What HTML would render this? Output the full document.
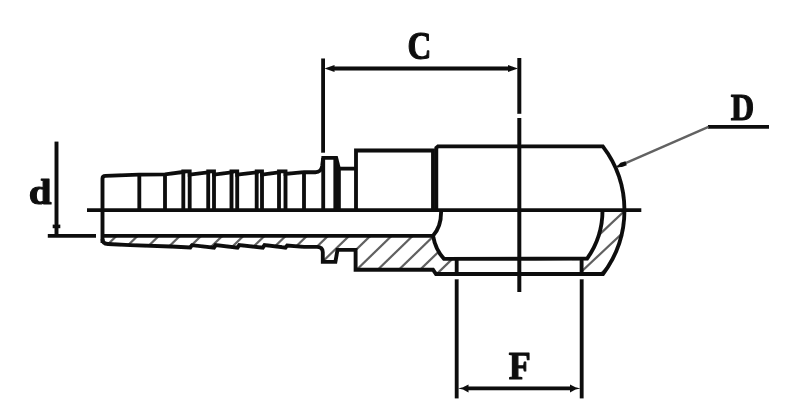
<!DOCTYPE html>
<html><head><meta charset="utf-8"><title>Banjo hose fitting</title>
<style>
html,body{margin:0;padding:0;background:#fff;}
body{width:805px;height:414px;overflow:hidden;font-family:"Liberation Serif",serif;}
svg{display:block;}
</style></head><body>
<svg width="805" height="414" viewBox="0 0 805 414">
<defs>
<clipPath id="cb"><path d="M102.5,235.7 L433,235.7 Q435.5,250 444,258.7 L456.5,258.7 L456.5,274 L436,274 L433,269.7 L355.6,269.7 L355.6,249.8 L338,249.8 L336.7,262 L322.8,261.8 L322.8,252 Q322.5,246 317,245.8 L304,246.9 L287.2,245.6 L285.5,247.6 L264.5,245.1 L262.8,247.6 L239.2,245.1 L237.5,247.6 L215.7,245.1 L214,247.6 L192,245.2 L190.3,247.5 L171,246.5 L130,245.1 L108,244 Q102.5,243.8 102.5,239 Z"/></clipPath>
<clipPath id="cr"><path d="M602.5,210 L624.5,210 A105.2,105.2 0 0 1 603,274 L581.5,274 L581.5,258.2 L587.3,258.2 A83.2,83.2 0 0 0 602.5,210 Z"/></clipPath>
<filter id="bl" x="-5%" y="-5%" width="110%" height="110%"><feGaussianBlur stdDeviation="0.6"/></filter>
</defs>
<rect width="805" height="414" fill="#ffffff"/>
<g filter="url(#bl)">
<g clip-path="url(#cb)" stroke="#606060" stroke-width="2.2" fill="none">
<line x1="20.9" y1="308.2" x2="160.9" y2="172.4"/>
<line x1="42.0" y1="308.2" x2="182.0" y2="172.4"/>
<line x1="63.1" y1="308.2" x2="203.1" y2="172.4"/>
<line x1="84.3" y1="308.2" x2="224.3" y2="172.4"/>
<line x1="105.4" y1="308.2" x2="245.4" y2="172.4"/>
<line x1="126.6" y1="308.2" x2="266.6" y2="172.4"/>
<line x1="147.8" y1="308.2" x2="287.8" y2="172.4"/>
<line x1="168.9" y1="308.2" x2="308.9" y2="172.4"/>
<line x1="190.0" y1="308.2" x2="330.0" y2="172.4"/>
<line x1="211.2" y1="308.2" x2="351.2" y2="172.4"/>
<line x1="232.4" y1="308.2" x2="372.4" y2="172.4"/>
<line x1="253.5" y1="308.2" x2="393.5" y2="172.4"/>
<line x1="274.6" y1="308.2" x2="414.6" y2="172.4"/>
<line x1="295.8" y1="308.2" x2="435.8" y2="172.4"/>
<line x1="317.0" y1="308.2" x2="457.0" y2="172.4"/>
<line x1="338.1" y1="308.2" x2="478.1" y2="172.4"/>
<line x1="359.2" y1="308.2" x2="499.2" y2="172.4"/>
<line x1="380.4" y1="308.2" x2="520.4" y2="172.4"/>
<line x1="401.5" y1="308.2" x2="541.5" y2="172.4"/>
</g>
<g clip-path="url(#cr)" stroke="#606060" stroke-width="2.2" fill="none">
<line x1="501.7" y1="306.4" x2="641.7" y2="174.8"/>
<line x1="523.0" y1="306.4" x2="663.0" y2="174.8"/>
<line x1="544.5" y1="306.4" x2="684.5" y2="174.8"/>
<line x1="566.0" y1="306.4" x2="706.0" y2="174.8"/>
</g>
<g stroke="#0c0c0c" stroke-width="3.85" fill="none" stroke-linecap="butt" stroke-linejoin="miter">
<line x1="87" y1="210.1" x2="641.3" y2="210.1"/>
<line x1="519.3" y1="58" x2="519.3" y2="113.8" stroke-width="4"/>
<line x1="519.3" y1="118" x2="519.3" y2="292" stroke-width="4"/>
<path d="M102.5,243 L102.5,178.5 Q102.5,176 105.5,175.9 L139,174.6 L165,174.3 L183.3,172 L183.3,171.3 L189.7,171.3 L189.7,174.6 L208.2,172.4 L208.2,171.3 L214,171.3 L214,174.6 L231.5,172.4 L231.5,171.3 L237.2,171.3 L237.2,174.6 L256.7,172.4 L256.7,171.3 L262,171.3 L262,174.6 L279,172.4 L279,171.3 L285.5,171.3 L285.5,173.8 L304,172.2 L315.5,172.2 Q321,172.2 322.2,166 L323.2,157.8 L336.2,157.8 L338.9,168.6 L356,168.6"/>
<line x1="139.3" y1="173" x2="139.3" y2="210"/>
<line x1="165" y1="173" x2="165" y2="210"/>
<line x1="183.3" y1="173" x2="183.3" y2="210"/>
<line x1="189.7" y1="173" x2="189.7" y2="210"/>
<line x1="208.2" y1="173" x2="208.2" y2="210"/>
<line x1="214" y1="173" x2="214" y2="210"/>
<line x1="231.5" y1="173" x2="231.5" y2="210"/>
<line x1="237.2" y1="173" x2="237.2" y2="210"/>
<line x1="256.7" y1="173" x2="256.7" y2="210"/>
<line x1="262" y1="173" x2="262" y2="210"/>
<line x1="279" y1="173" x2="279" y2="210"/>
<line x1="285.5" y1="173" x2="285.5" y2="210"/>
<line x1="304" y1="173" x2="304" y2="210"/>
<line x1="323.2" y1="158" x2="323.2" y2="210"/>
<line x1="335.3" y1="158" x2="335.3" y2="210"/>
<line x1="338.9" y1="168" x2="338.9" y2="210"/>
<path d="M356,210 L356,150.5 L433,150.5 L433,210"/>
<path d="M436.3,210 L436.3,147.9 L438,146.4 L602.8,146.4 A105.2,105.2 0 0 1 603,274 L436,274 L433,269.7 L355.6,269.7 L355.6,249.8 L337.5,249.8 L335.4,261.8 L322.8,261.8 L322.8,252 Q322.5,247 317,246.9 L304,246.9 L287.2,245.6 L285.5,247.6 L264.5,245.1 L262.8,247.6 L239.2,245.1 L237.5,247.6 L215.7,245.1 L214,247.6 L192,245.2 L190.3,247.5 L171,246.5 L130,245.1 L108,244 Q102.5,243.8 102.5,239"/>
<line x1="102.5" y1="235.9" x2="433.5" y2="235.9"/>
<path d="M441,210 Q441.8,226 433,235.7 Q435.5,250 444,258.9 L587.1,258.7 A83.2,83.2 0 0 0 602.5,210"/>
<line x1="456.7" y1="258.9" x2="456.7" y2="274"/>
<line x1="581.6" y1="258.2" x2="581.6" y2="274"/>
<line x1="323.1" y1="58.5" x2="323.1" y2="152.7" stroke-width="3.85"/>
<line x1="333" y1="68.5" x2="509.5" y2="68.5" stroke-width="3.85"/>
<line x1="456.7" y1="279.3" x2="456.7" y2="398.4" stroke-width="3.85"/>
<line x1="581.7" y1="279.3" x2="581.7" y2="398.4" stroke-width="3.85"/>
<line x1="466.5" y1="388.4" x2="572" y2="388.4" stroke-width="3.7"/>
<line x1="56.5" y1="141.6" x2="56.5" y2="236" stroke-width="3.9"/>
<line x1="47.8" y1="235.9" x2="96" y2="235.9" stroke-width="3.8"/>
<line x1="708" y1="126.8" x2="769" y2="126.8" stroke-width="3.85"/>
</g>
<line x1="708.5" y1="126.8" x2="617" y2="166.8" stroke="#626262" stroke-width="2.4"/>
<g fill="#0c0c0c" stroke="none">
<path d="M324.5,68.5 L331,66.2 L334.5,64.9 L334.5,72.1 L331,70.8 Z"/>
<path d="M518,68.5 L511.5,66.2 L508,64.9 L508,72.1 L511.5,70.8 Z"/>
<path d="M458,388.4 L463,387.2 L468.5,384.4 L468.5,392.4 L463,389.6 Z"/>
<path d="M580.5,388.4 L575.5,387.2 L570,384.4 L570,392.4 L575.5,389.6 Z"/>
<path d="M52.7,224.6 L60.3,224.6 L60.3,228.2 L52.7,228.2 Z"/>
<path d="M616.3,167.2 L620.5,162.8 L625.5,161.2 L626.8,165.2 L622,167 Z"/>
</g>
<g fill="#0c0c0c" stroke="#0c0c0c" stroke-width="3" stroke-linejoin="round" font-family="Liberation Serif, serif" font-weight="bold" font-size="100px">
<text id="tC" transform="translate(407.51,58.9) scale(0.3302,0.4014)">C</text>
<text id="tD" transform="translate(730.8,120.03) scale(0.3246,0.3853)">D</text>
<text id="tF" transform="translate(508.8,378.9) scale(0.3603,0.4045)">F</text>
<text id="td" transform="translate(28.77,204.48) scale(0.4094,0.3611)">d</text>
</g>
</g></svg>
</body></html>
